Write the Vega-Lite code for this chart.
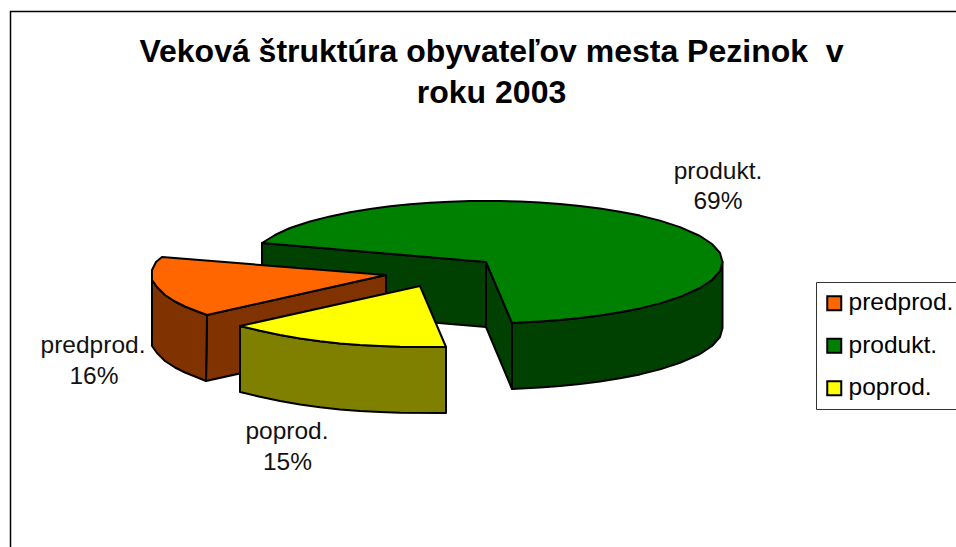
{
"$schema":"https://vega.github.io/schema/vega-lite/v6.json",
"width":956,"height":547,"padding":0,"autosize":{"type":"none"},"background":"white",
"title":{"text":["Veková štruktúra obyvateľov mesta Pezinok \u00a0v","roku 2003"],"font":"Liberation Sans","fontSize":32,"fontWeight":"bold","color":"#000000","lineHeight":41.5,"anchor":"middle","orient":"top","frame":"group","baseline":"alphabetic","offset":-135,"dx":13.5},
"config":{"view":{"stroke":null},"font":"Liberation Sans"},
"datasets":{
"frame":[{"x":10.5,"y":547,"o":1},{"x":10.5,"y":11.5,"o":2},{"x":956,"y":11.5,"o":3}],
"faces":[
{"face":"g1","part":"produkt. bok","o":1,"x":262,"y":243},{"face":"g1","part":"produkt. bok","o":2,"x":486,"y":262},{"face":"g1","part":"produkt. bok","o":3,"x":486,"y":327},{"face":"g1","part":"produkt. bok","o":4,"x":262,"y":308},
{"face":"g2","part":"produkt. bok","o":1,"x":486,"y":262},{"face":"g2","part":"produkt. bok","o":2,"x":512,"y":323},{"face":"g2","part":"produkt. bok","o":3,"x":512,"y":389},{"face":"g2","part":"produkt. bok","o":4,"x":486,"y":327},
{"face":"g3","part":"produkt. bok","o":1,"x":512,"y":323},{"face":"g3","part":"produkt. bok","o":2,"x":540,"y":321.4},{"face":"g3","part":"produkt. bok","o":3,"x":560,"y":320},{"face":"g3","part":"produkt. bok","o":4,"x":580,"y":318},{"face":"g3","part":"produkt. bok","o":5,"x":600,"y":315.5},{"face":"g3","part":"produkt. bok","o":6,"x":620,"y":312.3},{"face":"g3","part":"produkt. bok","o":7,"x":640,"y":308.4},{"face":"g3","part":"produkt. bok","o":8,"x":660,"y":303.4},{"face":"g3","part":"produkt. bok","o":9,"x":680,"y":296.9},{"face":"g3","part":"produkt. bok","o":10,"x":700,"y":288},{"face":"g3","part":"produkt. bok","o":11,"x":712,"y":280},{"face":"g3","part":"produkt. bok","o":12,"x":720,"y":271},{"face":"g3","part":"produkt. bok","o":13,"x":722.5,"y":262},
{"face":"g3","part":"produkt. bok","o":14,"x":722.5,"y":328},{"face":"g3","part":"produkt. bok","o":15,"x":720,"y":337},{"face":"g3","part":"produkt. bok","o":16,"x":712,"y":346},{"face":"g3","part":"produkt. bok","o":17,"x":700,"y":354},{"face":"g3","part":"produkt. bok","o":18,"x":680,"y":362.9},{"face":"g3","part":"produkt. bok","o":19,"x":660,"y":369.4},{"face":"g3","part":"produkt. bok","o":20,"x":640,"y":374.4},{"face":"g3","part":"produkt. bok","o":21,"x":620,"y":378.3},{"face":"g3","part":"produkt. bok","o":22,"x":600,"y":381.5},{"face":"g3","part":"produkt. bok","o":23,"x":580,"y":384},{"face":"g3","part":"produkt. bok","o":24,"x":560,"y":386},{"face":"g3","part":"produkt. bok","o":25,"x":540,"y":387.4},{"face":"g3","part":"produkt. bok","o":26,"x":512,"y":389},
{"face":"g4","part":"produkt.","o":1,"x":262,"y":243},{"face":"g4","part":"produkt.","o":2,"x":275,"y":235},{"face":"g4","part":"produkt.","o":3,"x":290,"y":228},{"face":"g4","part":"produkt.","o":4,"x":310,"y":221.5},{"face":"g4","part":"produkt.","o":5,"x":330,"y":216.4},{"face":"g4","part":"produkt.","o":6,"x":350,"y":212.2},{"face":"g4","part":"produkt.","o":7,"x":370,"y":209},{"face":"g4","part":"produkt.","o":8,"x":390,"y":206.3},{"face":"g4","part":"produkt.","o":9,"x":410,"y":204.3},{"face":"g4","part":"produkt.","o":10,"x":430,"y":202.8},{"face":"g4","part":"produkt.","o":11,"x":450,"y":201.7},{"face":"g4","part":"produkt.","o":12,"x":470,"y":201.1},{"face":"g4","part":"produkt.","o":13,"x":500,"y":201.1},{"face":"g4","part":"produkt.","o":14,"x":520,"y":201.6},{"face":"g4","part":"produkt.","o":15,"x":540,"y":202.6},{"face":"g4","part":"produkt.","o":16,"x":560,"y":204},{"face":"g4","part":"produkt.","o":17,"x":580,"y":206},{"face":"g4","part":"produkt.","o":18,"x":600,"y":208.5},{"face":"g4","part":"produkt.","o":19,"x":620,"y":211.7},{"face":"g4","part":"produkt.","o":20,"x":640,"y":215.6},{"face":"g4","part":"produkt.","o":21,"x":660,"y":220.6},{"face":"g4","part":"produkt.","o":22,"x":680,"y":227.1},{"face":"g4","part":"produkt.","o":23,"x":700,"y":236},{"face":"g4","part":"produkt.","o":24,"x":712,"y":244},{"face":"g4","part":"produkt.","o":25,"x":720,"y":253},{"face":"g4","part":"produkt.","o":26,"x":722.5,"y":262},{"face":"g4","part":"produkt.","o":27,"x":720,"y":271},{"face":"g4","part":"produkt.","o":28,"x":712,"y":280},{"face":"g4","part":"produkt.","o":29,"x":700,"y":288},{"face":"g4","part":"produkt.","o":30,"x":680,"y":296.9},{"face":"g4","part":"produkt.","o":31,"x":660,"y":303.4},{"face":"g4","part":"produkt.","o":32,"x":640,"y":308.4},{"face":"g4","part":"produkt.","o":33,"x":620,"y":312.3},{"face":"g4","part":"produkt.","o":34,"x":600,"y":315.5},{"face":"g4","part":"produkt.","o":35,"x":580,"y":318},{"face":"g4","part":"produkt.","o":36,"x":560,"y":320},{"face":"g4","part":"produkt.","o":37,"x":540,"y":321.4},{"face":"g4","part":"produkt.","o":38,"x":512,"y":323},{"face":"g4","part":"produkt.","o":39,"x":486,"y":262},
{"face":"o1","part":"predprod. bok","o":1,"x":207,"y":315},{"face":"o1","part":"predprod. bok","o":2,"x":386,"y":275},{"face":"o1","part":"predprod. bok","o":3,"x":386,"y":341},{"face":"o1","part":"predprod. bok","o":4,"x":206,"y":381},
{"face":"o2","part":"predprod. bok","o":1,"x":152,"y":280},{"face":"o2","part":"predprod. bok","o":2,"x":157,"y":287},{"face":"o2","part":"predprod. bok","o":3,"x":165,"y":295},{"face":"o2","part":"predprod. bok","o":4,"x":175,"y":301.5},{"face":"o2","part":"predprod. bok","o":5,"x":185,"y":306.5},{"face":"o2","part":"predprod. bok","o":6,"x":195,"y":310.5},{"face":"o2","part":"predprod. bok","o":7,"x":207,"y":315},{"face":"o2","part":"predprod. bok","o":8,"x":206,"y":381},{"face":"o2","part":"predprod. bok","o":9,"x":195,"y":376.5},{"face":"o2","part":"predprod. bok","o":10,"x":185,"y":372.5},{"face":"o2","part":"predprod. bok","o":11,"x":175,"y":367.5},{"face":"o2","part":"predprod. bok","o":12,"x":165,"y":361},{"face":"o2","part":"predprod. bok","o":13,"x":157,"y":353},{"face":"o2","part":"predprod. bok","o":14,"x":152,"y":346},
{"face":"o3","part":"predprod.","o":1,"x":162,"y":257},{"face":"o3","part":"predprod.","o":2,"x":386,"y":275},{"face":"o3","part":"predprod.","o":3,"x":207,"y":315},{"face":"o3","part":"predprod.","o":4,"x":195,"y":310.5},{"face":"o3","part":"predprod.","o":5,"x":185,"y":306.5},{"face":"o3","part":"predprod.","o":6,"x":175,"y":301.5},{"face":"o3","part":"predprod.","o":7,"x":165,"y":295},{"face":"o3","part":"predprod.","o":8,"x":157,"y":287},{"face":"o3","part":"predprod.","o":9,"x":152,"y":280},{"face":"o3","part":"predprod.","o":10,"x":152,"y":270},{"face":"o3","part":"predprod.","o":11,"x":156,"y":262},
{"face":"y1","part":"poprod. bok","o":1,"x":240,"y":326},{"face":"y1","part":"poprod. bok","o":2,"x":260,"y":330.8},{"face":"y1","part":"poprod. bok","o":3,"x":280,"y":335},{"face":"y1","part":"poprod. bok","o":4,"x":300,"y":338.5},{"face":"y1","part":"poprod. bok","o":5,"x":320,"y":341.3},{"face":"y1","part":"poprod. bok","o":6,"x":340,"y":343.4},{"face":"y1","part":"poprod. bok","o":7,"x":360,"y":345},{"face":"y1","part":"poprod. bok","o":8,"x":380,"y":346.1},{"face":"y1","part":"poprod. bok","o":9,"x":400,"y":346.8},{"face":"y1","part":"poprod. bok","o":10,"x":446,"y":347},{"face":"y1","part":"poprod. bok","o":11,"x":446,"y":413},{"face":"y1","part":"poprod. bok","o":12,"x":400,"y":412.8},{"face":"y1","part":"poprod. bok","o":13,"x":380,"y":412.1},{"face":"y1","part":"poprod. bok","o":14,"x":360,"y":411},{"face":"y1","part":"poprod. bok","o":15,"x":340,"y":409.4},{"face":"y1","part":"poprod. bok","o":16,"x":320,"y":407.3},{"face":"y1","part":"poprod. bok","o":17,"x":300,"y":404.5},{"face":"y1","part":"poprod. bok","o":18,"x":280,"y":401},{"face":"y1","part":"poprod. bok","o":19,"x":260,"y":396.8},{"face":"y1","part":"poprod. bok","o":20,"x":240,"y":392},
{"face":"y2","part":"poprod.","o":1,"x":240,"y":326},{"face":"y2","part":"poprod.","o":2,"x":420,"y":286},{"face":"y2","part":"poprod.","o":3,"x":446,"y":347},{"face":"y2","part":"poprod.","o":4,"x":400,"y":346.8},{"face":"y2","part":"poprod.","o":5,"x":380,"y":346.1},{"face":"y2","part":"poprod.","o":6,"x":360,"y":345},{"face":"y2","part":"poprod.","o":7,"x":340,"y":343.4},{"face":"y2","part":"poprod.","o":8,"x":320,"y":341.3},{"face":"y2","part":"poprod.","o":9,"x":300,"y":338.5},{"face":"y2","part":"poprod.","o":10,"x":280,"y":335},{"face":"y2","part":"poprod.","o":11,"x":260,"y":330.8}
],
"labels":[
{"t":"produkt.","x":718,"y":171.5},{"t":"69%","x":718,"y":201.5},
{"t":"predprod.","x":93,"y":345.5},{"t":"16%","x":94,"y":376.5},
{"t":"poprod.","x":287,"y":431.5},{"t":"15%","x":287.5,"y":462.5}
]
},
"layer":[
{"data":{"name":"frame"},"mark":{"type":"line","stroke":"#000000","strokeWidth":1.5,"clip":false},
"encoding":{"x":{"field":"x","type":"quantitative","scale":{"domain":[0,956],"nice":false,"zero":false},"axis":null},"y":{"field":"y","type":"quantitative","scale":{"domain":[547,0],"nice":false,"zero":false},"axis":null},"order":{"field":"o"}}},
{"data":{"name":"faces"},"mark":{"type":"line","interpolate":"linear-closed","stroke":"#000000","strokeWidth":2,"strokeJoin":"round"},
"encoding":{"x":{"field":"x","type":"quantitative"},"y":{"field":"y","type":"quantitative"},"detail":{"field":"face"},"order":{"field":"o"},
"fill":{"field":"part","type":"nominal","scale":{"domain":["predprod.","produkt.","poprod.","predprod. bok","produkt. bok","poprod. bok"],"range":["#FF6600","#008000","#FFFF00","#803300","#004000","#808000"]},
"legend":{"values":["predprod.","produkt.","poprod."],"title":null,"orient":"none","legendX":816,"legendY":282,"padding":9,"fillColor":"#ffffff","strokeColor":"#333333","symbolType":"square","symbolSize":196,"symbolOffset":-3,"symbolStrokeColor":"#000000","symbolStrokeWidth":2,"symbolOpacity":1,"labelFont":"Liberation Sans","labelFontSize":24.5,"labelColor":"#000000","labelOffset":2,"rowPadding":17.5,"labelLimit":200}}}},
{"data":{"name":"labels"},"mark":{"type":"text","font":"Liberation Sans","fontSize":24.5,"color":"#111111","align":"center","baseline":"middle"},
"encoding":{"x":{"field":"x","type":"quantitative"},"y":{"field":"y","type":"quantitative"},"text":{"field":"t"}}}
]
}
